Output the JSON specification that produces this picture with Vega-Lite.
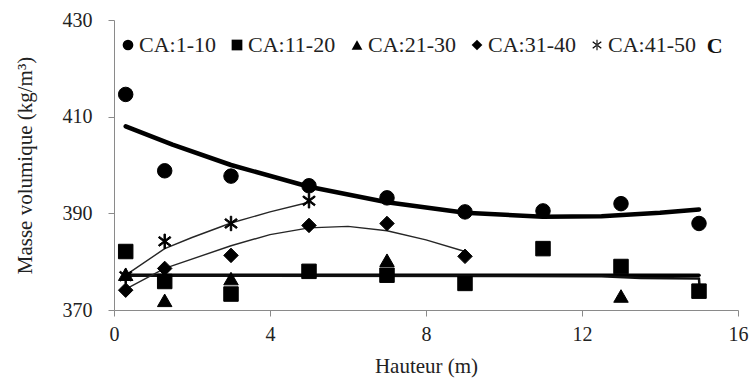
{
  "$schema": "https://vega.github.io/schema/vega-lite/v6.json",
  "width": 624,
  "height": 290,
  "autosize": {"type": "none"},
  "padding": {"left": 114, "top": 20, "right": 17, "bottom": 78},
  "background": "white",
  "config": {"view": {"stroke": null}, "font": "Liberation Serif"},
  "datasets": {
    "points": [
      {"series": "CA:1-10", "x": 0.3, "y": 414.6},
      {"series": "CA:1-10", "x": 1.3, "y": 398.8},
      {"series": "CA:1-10", "x": 3, "y": 397.7},
      {"series": "CA:1-10", "x": 5, "y": 395.7},
      {"series": "CA:1-10", "x": 7, "y": 393.2},
      {"series": "CA:1-10", "x": 9, "y": 390.3},
      {"series": "CA:1-10", "x": 11, "y": 390.5},
      {"series": "CA:1-10", "x": 13, "y": 392.0},
      {"series": "CA:1-10", "x": 15, "y": 387.9},
      {"series": "CA:11-20", "x": 0.3, "y": 382.1},
      {"series": "CA:11-20", "x": 1.3, "y": 375.9},
      {"series": "CA:11-20", "x": 3, "y": 373.3},
      {"series": "CA:11-20", "x": 5, "y": 378.0},
      {"series": "CA:11-20", "x": 7, "y": 377.2},
      {"series": "CA:11-20", "x": 9, "y": 375.5},
      {"series": "CA:11-20", "x": 11, "y": 382.7},
      {"series": "CA:11-20", "x": 13, "y": 379.0},
      {"series": "CA:11-20", "x": 15, "y": 373.9},
      {"series": "CA:21-30", "x": 0.3, "y": 377.4},
      {"series": "CA:21-30", "x": 1.3, "y": 372.0},
      {"series": "CA:21-30", "x": 3, "y": 376.5},
      {"series": "CA:21-30", "x": 7, "y": 380.3},
      {"series": "CA:21-30", "x": 13, "y": 372.9},
      {"series": "CA:31-40", "x": 0.3, "y": 374.1},
      {"series": "CA:31-40", "x": 1.3, "y": 378.6},
      {"series": "CA:31-40", "x": 3, "y": 381.3},
      {"series": "CA:31-40", "x": 5, "y": 387.5},
      {"series": "CA:31-40", "x": 7, "y": 387.9},
      {"series": "CA:31-40", "x": 9, "y": 381.1},
      {"series": "CA:41-50", "x": 0.3, "y": 377.0},
      {"series": "CA:41-50", "x": 1.3, "y": 384.2},
      {"series": "CA:41-50", "x": 3, "y": 387.9},
      {"series": "CA:41-50", "x": 5, "y": 392.6}
    ],
    "trends": [
      {"trend": "T1-10", "x": 0.3, "y": 408.0},
      {"trend": "T1-10", "x": 1.5, "y": 404.2},
      {"trend": "T1-10", "x": 3, "y": 400.0},
      {"trend": "T1-10", "x": 5, "y": 395.5},
      {"trend": "T1-10", "x": 7, "y": 392.3},
      {"trend": "T1-10", "x": 9, "y": 390.1},
      {"trend": "T1-10", "x": 11, "y": 389.3},
      {"trend": "T1-10", "x": 12.5, "y": 389.4},
      {"trend": "T1-10", "x": 14, "y": 390.1},
      {"trend": "T1-10", "x": 15, "y": 390.8},
      {"trend": "T11-20", "x": 0.3, "y": 377.2},
      {"trend": "T11-20", "x": 15, "y": 377.2},
      {"trend": "T21-30", "x": 0.3, "y": 377.1},
      {"trend": "T21-30", "x": 12.5, "y": 377.0},
      {"trend": "T21-30", "x": 13.5, "y": 376.6},
      {"trend": "T21-30", "x": 15, "y": 376.5},
      {"trend": "T21-30", "x": 15.02, "y": 374.0},
      {"trend": "T31-40", "x": 0.3, "y": 374.3},
      {"trend": "T31-40", "x": 1.3, "y": 378.6},
      {"trend": "T31-40", "x": 3, "y": 383.3},
      {"trend": "T31-40", "x": 4, "y": 385.6},
      {"trend": "T31-40", "x": 5, "y": 387.0},
      {"trend": "T31-40", "x": 6, "y": 387.3},
      {"trend": "T31-40", "x": 7, "y": 386.4},
      {"trend": "T31-40", "x": 8, "y": 384.5},
      {"trend": "T31-40", "x": 9, "y": 382.1},
      {"trend": "T41-50", "x": 0.3, "y": 377.2},
      {"trend": "T41-50", "x": 1.3, "y": 382.7},
      {"trend": "T41-50", "x": 2, "y": 385.0},
      {"trend": "T41-50", "x": 3, "y": 388.0},
      {"trend": "T41-50", "x": 4, "y": 390.3},
      {"trend": "T41-50", "x": 5, "y": 392.3}
    ],
    "panel": [{"label": "C", "x": 15.4, "y": 424.7}]
  },
  "encoding": {
    "x": {
      "type": "quantitative",
      "scale": {"domain": [0, 16], "nice": false, "zero": false},
      "axis": {
        "title": "Hauteur (m)",
        "values": [0, 4, 8, 12, 16],
        "grid": false,
        "domainColor": "#8a8a8a",
        "tickColor": "#8a8a8a",
        "tickSize": 6,
        "labelFont": "Liberation Serif",
        "labelFontSize": 20,
        "labelColor": "#222222",
        "labelPadding": 8,
        "labelFlush": false,
        "titleFont": "Liberation Serif",
        "titleFontSize": 21,
        "titleFontWeight": "normal",
        "titleColor": "#222222",
        "titlePadding": 11
      }
    },
    "y": {
      "type": "quantitative",
      "scale": {"domain": [370, 430], "nice": false, "zero": false},
      "axis": {
        "title": "Masse volumique (kg/m³)",
        "values": [370, 390, 410, 430],
        "grid": false,
        "domainColor": "#8a8a8a",
        "tickColor": "#8a8a8a",
        "tickSize": 6,
        "labelFont": "Liberation Serif",
        "labelFontSize": 20,
        "labelColor": "#222222",
        "labelPadding": 16,
        "labelFlush": false,
        "titleFont": "Liberation Serif",
        "titleFontSize": 21,
        "titleFontWeight": "normal",
        "titleColor": "#222222",
        "titlePadding": 27
      }
    }
  },
  "layer": [
    {
      "mark": {"type": "rule", "color": "#8a8a8a", "strokeWidth": 1},
      "encoding": {"y": {"datum": 430}}
    },
    {
      "data": {"name": "trends"},
      "transform": [{"filter": "datum.trend === 'T1-10'"}],
      "mark": {"type": "line", "color": "#000000", "strokeWidth": 4.5, "strokeCap": "round", "strokeJoin": "round"},
      "encoding": {
        "x": {"field": "x", "type": "quantitative"},
        "y": {"field": "y", "type": "quantitative"}
      }
    },
    {
      "data": {"name": "trends"},
      "transform": [{"filter": "datum.trend === 'T11-20'"}],
      "mark": {"type": "line", "color": "#000000", "strokeWidth": 3.5, "strokeCap": "round", "strokeJoin": "round"},
      "encoding": {
        "x": {"field": "x", "type": "quantitative"},
        "y": {"field": "y", "type": "quantitative"}
      }
    },
    {
      "data": {"name": "trends"},
      "transform": [{"filter": "datum.trend === 'T21-30'"}],
      "mark": {"type": "line", "color": "#111111", "strokeWidth": 2.5, "strokeCap": "round", "strokeJoin": "round"},
      "encoding": {
        "x": {"field": "x", "type": "quantitative"},
        "y": {"field": "y", "type": "quantitative"}
      }
    },
    {
      "data": {"name": "trends"},
      "transform": [{"filter": "datum.trend === 'T31-40' || datum.trend === 'T41-50'"}],
      "mark": {"type": "line", "color": "#262626", "strokeWidth": 1.4, "strokeCap": "round", "strokeJoin": "round"},
      "encoding": {
        "x": {"field": "x", "type": "quantitative"},
        "y": {"field": "y", "type": "quantitative"},
        "detail": {"field": "trend"}
      }
    },
    {
      "data": {"name": "points"},
      "mark": {"type": "point", "filled": true, "fill": "black", "stroke": "black", "strokeWidth": 1, "opacity": 1, "size": 210},
      "encoding": {
        "x": {"field": "x", "type": "quantitative"},
        "y": {"field": "y", "type": "quantitative"},
        "shape": {
          "field": "series",
          "type": "nominal",
          "scale": {
            "domain": ["CA:1-10", "CA:11-20", "CA:21-30", "CA:31-40", "CA:41-50"],
            "range": ["circle", "square", "triangle-up", "diamond", "M-0.1,-1L0.1,-1L0.1,1L-0.1,1ZM-0.866,-0.512L0.734,0.688L0.866,0.512L-0.734,-0.688ZM-0.734,0.688L0.866,-0.512L0.734,-0.688L-0.866,0.512Z"]
          },
          "legend": {
            "orient": "none",
            "legendX": 3,
            "legendY": 14,
            "direction": "horizontal",
            "title": null,
            "labelFont": "Liberation Serif",
            "labelFontSize": 22,
            "labelColor": "#222222",
            "symbolSize": 115,
            "symbolFillColor": "black",
            "symbolStrokeColor": "black",
            "symbolStrokeWidth": 1,
            "symbolOpacity": 1,
            "labelOffset": 0,
            "columnPadding": 10,
            "encode": {
              "symbols": {
                "update": {
                  "stroke": {"value": "#000000"},
                  "strokeWidth": {"value": 1},
                  "fill": {"value": "#000000"},
                  "fillOpacity": {"value": 1},
                  "opacity": {"value": 1}
                }
              }
            }
          }
        }
      }
    },
    {
      "data": {"name": "panel"},
      "mark": {"type": "text", "font": "Liberation Serif", "fontSize": 22, "fontWeight": "bold", "fill": "#111111", "align": "center", "baseline": "middle"},
      "encoding": {
        "x": {"field": "x", "type": "quantitative"},
        "y": {"field": "y", "type": "quantitative"},
        "text": {"field": "label"}
      }
    }
  ]
}
